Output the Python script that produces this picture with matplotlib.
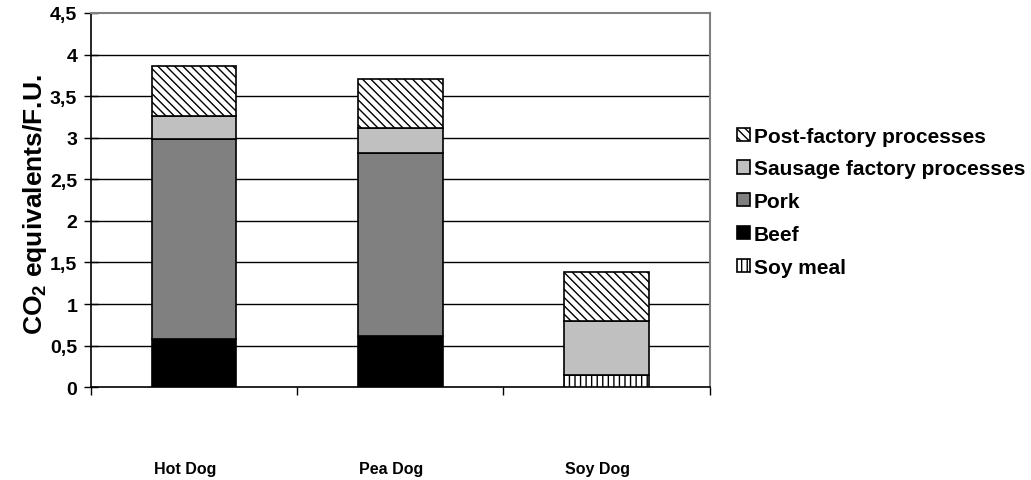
import matplotlib
matplotlib.use("Agg")
import matplotlib.pyplot as plt
import matplotlib.transforms as mtransforms
import numpy as np

plt.rcParams['font.family'] = ['Liberation Sans', 'DejaVu Sans']
plt.rcParams['font.weight'] = 'bold'
plt.rcParams['mathtext.fontset'] = 'custom'
plt.rcParams['mathtext.rm'] = 'Liberation Sans:bold'
plt.rcParams['mathtext.bf'] = 'Liberation Sans:bold'
plt.rcParams['hatch.linewidth'] = 1.0

# products and the emission contributions (stacked bottom to top)
products = ["Hot Dog", "Pea Dog", "Soy Dog"]
soy_meal = [0.0, 0.0, 0.15]
beef = [0.58, 0.62, 0.0]
pork = [2.40, 2.20, 0.0]
sausage_factory = [0.28, 0.30, 0.65]
post_factory = [0.60, 0.59, 0.58]

layers = [
    ("Soy meal", soy_meal, "white", "|||"),
    ("Beef", beef, "black", None),
    ("Pork", pork, "#808080", None),
    ("Sausage factory processes", sausage_factory, "#C0C0C0", None),
    ("Post-factory processes", post_factory, "white", "\\\\\\\\"),
]

yticks = [0, 0.5, 1, 1.5, 2, 2.5, 3, 3.5, 4, 4.5]
ytick_labels = ["0", "0,5", "1", "1,5", "2", "2,5", "3", "3,5", "4", "4,5"]

fig = plt.figure(figsize=(10.31, 4.81), dpi=100)
ax = fig.add_axes([0.0883, 0.193, 0.6, 0.778])

x = np.arange(len(products))
bottom = np.zeros(len(products))
handles = []
for name, vals, color, hatch in layers:
    vals = np.array(vals)
    bars = ax.bar(x, vals, width=0.41, bottom=bottom, color=color,
                  edgecolor="black", linewidth=1.2, hatch=hatch,
                  label=name, zorder=3)
    handles.append(bars)
    bottom += vals

ax.set_xlim(-0.5, len(products) - 0.5)
ax.set_ylim(0, 4.5)

# horizontal gridlines
for yv in yticks[1:-1]:
    ax.axhline(yv, color="black", linewidth=1.0, zorder=1)

ax.set_yticks(yticks)
ax.set_yticklabels(ytick_labels, fontsize=14, fontweight="bold")
ax.tick_params(axis="y", direction="inout", length=10, width=1.0, pad=5)

# category boundaries as major ticks, names as minor tick labels
ax.set_xticks(np.arange(-0.5, len(products), 1.0))
ax.set_xticklabels([])
ax.set_xticks(x, minor=True)
ax.set_xticklabels(products, minor=True, fontsize=11.5, fontweight="bold")
ax.tick_params(axis="x", which="major", direction="out", length=6, width=1.0)
ax.tick_params(axis="x", which="minor", length=0, pad=53)
shift = mtransforms.ScaledTranslation(-9 / 100, 0, fig.dpi_scale_trans)
for lbl in ax.get_xticklabels(minor=True):
    lbl.set_transform(lbl.get_transform() + shift)

for side in ("left", "bottom"):
    ax.spines[side].set_color("black")
    ax.spines[side].set_linewidth(1.2)
for side in ("top", "right"):
    ax.spines[side].set_color("#808080")
    ax.spines[side].set_linewidth(1.5)

ax.set_ylabel(r"CO$_{\mathbf{2}}$ equivalents/F.U.", fontsize=19,
              fontweight="bold")
ax.yaxis.set_label_coords(-0.068, 0.49)

fig.legend(handles[::-1], [h.get_label() for h in handles[::-1]],
           loc="upper left", bbox_to_anchor=(0.707, 0.752),
           frameon=False, handlelength=0.6, handleheight=0.6,
           handletextpad=0.2, labelspacing=0.66, borderaxespad=0,
           prop={"weight": "bold", "size": 15})

fig.savefig("out.png", dpi=100)
